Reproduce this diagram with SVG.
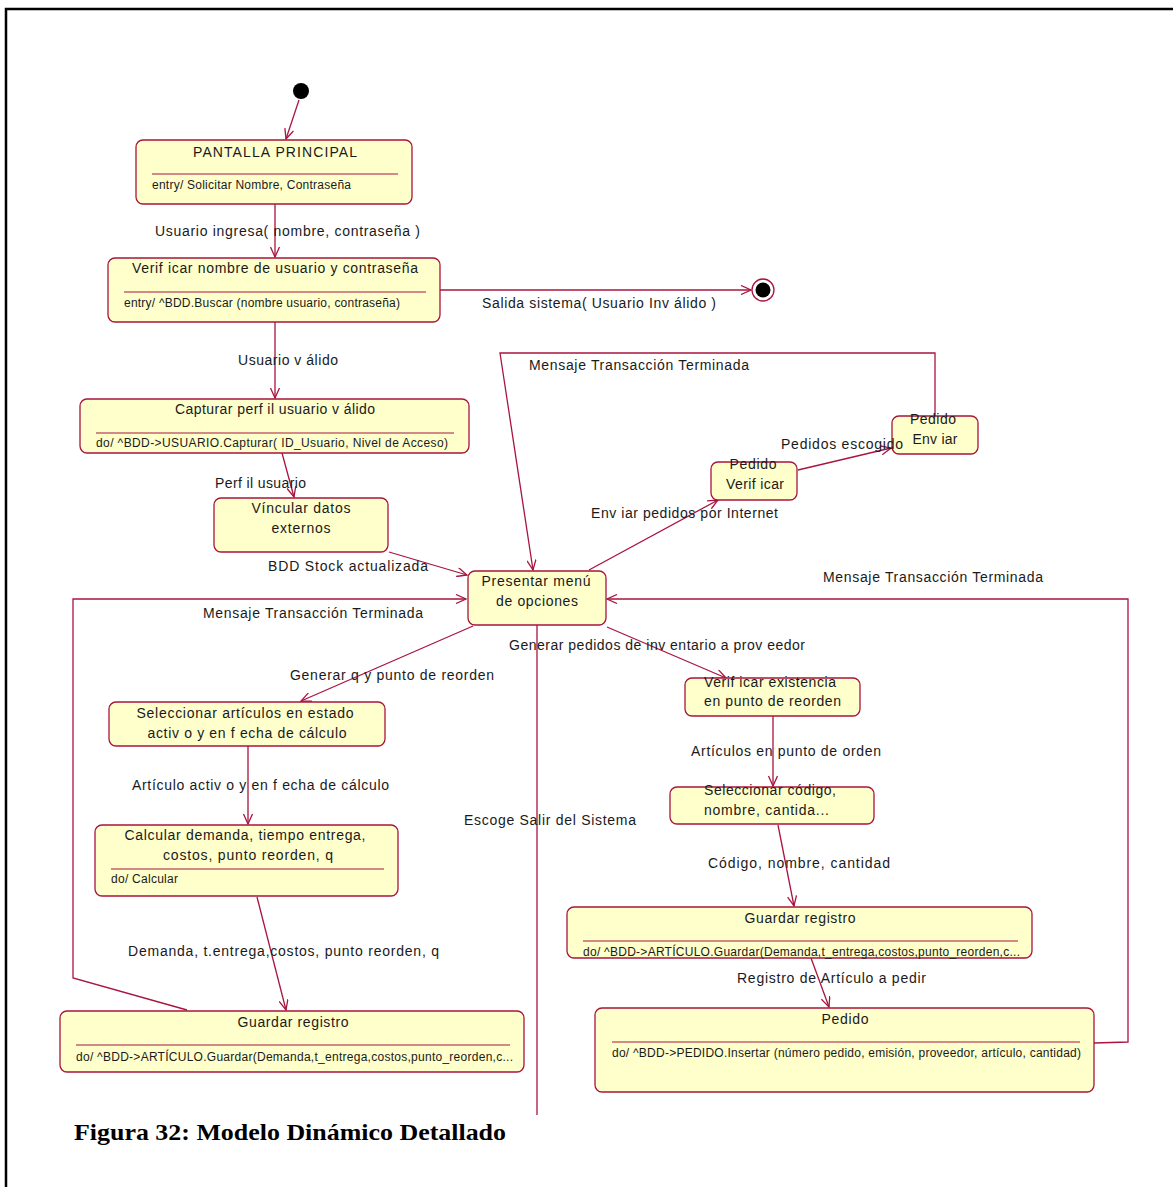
<svg xmlns="http://www.w3.org/2000/svg" width="1173" height="1187" viewBox="0 0 1173 1187">
<style>
.box{fill:#ffffcc;stroke:#a8153f;stroke-width:1.3}
.div{stroke:#a8153f;stroke-width:1.2}
.t{font-family:"Liberation Sans",Arial,sans-serif;font-size:14px;fill:#1a1a1a}
.c{text-anchor:middle}
.s{font-family:"Liberation Sans",Arial,sans-serif;font-size:12px;fill:#1a1a1a}
.e{fill:none;stroke:#a8153f;stroke-width:1.3}
.cap{font-family:"Liberation Serif","Times New Roman",serif;font-size:24px;font-weight:bold;fill:#000}
</style>
<defs>
<marker id="arr" viewBox="0 0 12 10" refX="11" refY="5" markerWidth="12" markerHeight="10" markerUnits="userSpaceOnUse" orient="auto">
<path d="M1,0.5 L11,5 L1,9.5" fill="none" stroke="#a8153f" stroke-width="1.3"/>
</marker>
</defs>
<rect width="1173" height="1187" fill="#fff"/>
<path d="M6,1187 L6,9 L1173,9" fill="none" stroke="#000" stroke-width="2.5"/>

<g id="connectors">
<line class="e" x1="299" y1="100" x2="286" y2="139" marker-end="url(#arr)"/>
<line class="e" x1="275" y1="204" x2="275" y2="257" marker-end="url(#arr)"/>
<line class="e" x1="440" y1="290" x2="751" y2="290" marker-end="url(#arr)"/>
<line class="e" x1="275" y1="322" x2="275" y2="398" marker-end="url(#arr)"/>
<line class="e" x1="282" y1="453" x2="294" y2="497" marker-end="url(#arr)"/>
<line class="e" x1="389" y1="552" x2="467" y2="575" marker-end="url(#arr)"/>
<line class="e" x1="589" y1="570" x2="718" y2="500" marker-end="url(#arr)"/>
<line class="e" x1="798" y1="470" x2="891" y2="448" marker-end="url(#arr)"/>
<polyline class="e" points="935,416 935,353 500,353 533,570" marker-end="url(#arr)"/>
<polyline class="e" points="187,1010 73,978 73,599 466,599" marker-end="url(#arr)"/>
<polyline class="e" points="1094,1043 1128,1042 1128,599 607,599" marker-end="url(#arr)"/>
<line class="e" x1="473" y1="626" x2="301" y2="701" marker-end="url(#arr)"/>
<line class="e" x1="607" y1="627" x2="726" y2="678" marker-end="url(#arr)"/>
<line class="e" x1="537" y1="625" x2="537" y2="1115"/>
<line class="e" x1="248" y1="746" x2="248" y2="824" marker-end="url(#arr)"/>
<line class="e" x1="257" y1="897" x2="286" y2="1010" marker-end="url(#arr)"/>
<line class="e" x1="773" y1="716" x2="773" y2="786" marker-end="url(#arr)"/>
<line class="e" x1="778" y1="825" x2="794" y2="906" marker-end="url(#arr)"/>
<line class="e" x1="811" y1="958" x2="829" y2="1007" marker-end="url(#arr)"/>
</g>

<g id="initial"><circle cx="301" cy="91" r="8" fill="#000"/></g>
<g id="final"><circle cx="763" cy="290" r="11" fill="#fff" stroke="#a8153f" stroke-width="1.3"/><circle cx="763" cy="290" r="7.5" fill="#000"/></g>

<g id="pantalla">
<rect class="box" x="136" y="140" width="276" height="64" rx="7"/>
<text class="t c" x="275" y="157" textLength="164">PANTALLA PRINCIPAL</text>
<line class="div" x1="152" y1="174" x2="398" y2="174"/>
<text class="s" x="152" y="189" textLength="199">entry/ Solicitar Nombre, Contraseña</text>
</g>

<g id="verificar">
<rect class="box" x="108" y="258" width="332" height="64" rx="7"/>
<text class="t c" x="275" y="273" textLength="286">Verif icar nombre de usuario y  contraseña</text>
<line class="div" x1="124" y1="292" x2="426" y2="292"/>
<text class="s" x="124" y="307" textLength="276">entry/ ^BDD.Buscar (nombre usuario, contraseña)</text>
</g>

<g id="capturar">
<rect class="box" x="80" y="399" width="389" height="54" rx="7"/>
<text class="t c" x="275" y="414" textLength="200">Capturar perf il usuario v álido</text>
<line class="div" x1="96" y1="433" x2="454" y2="433"/>
<text class="s" x="96" y="447" textLength="352">do/ ^BDD-&gt;USUARIO.Capturar( ID_Usuario, Nivel de Acceso)</text>
</g>

<g id="vincular">
<rect class="box" x="214" y="498" width="174" height="54" rx="7"/>
<text class="t c" x="301" y="513" textLength="99">Víncular datos</text>
<text class="t c" x="301" y="533" textLength="59">externos</text>
</g>

<g id="presentar">
<rect class="box" x="468" y="571" width="138" height="54" rx="7"/>
<text class="t c" x="536" y="586" textLength="109">Presentar menú</text>
<text class="t c" x="537" y="606" textLength="82">de opciones</text>
</g>

<g id="pedidoVerificar">
<rect class="box" x="711" y="462" width="86" height="38" rx="7"/>
<text class="t c" x="753" y="469" textLength="47">Pedido</text>
<text class="t c" x="755" y="489" textLength="58">Verif icar</text>
</g>

<g id="pedidoEnviar">
<rect class="box" x="892" y="416" width="86" height="38" rx="7"/>
<text class="t c" x="933" y="424" textLength="46">Pedido</text>
<text class="t c" x="935" y="444" textLength="45">Env iar</text>
</g>

<g id="seleccionarArticulos">
<rect class="box" x="109" y="702" width="276" height="44" rx="7"/>
<text class="t c" x="245" y="718" textLength="217">Seleccionar artículos en estado</text>
<text class="t c" x="247" y="738" textLength="199">activ o y  en f echa de cálculo</text>
</g>

<g id="calcular">
<rect class="box" x="95" y="825" width="303" height="71" rx="7"/>
<text class="t c" x="245" y="840" textLength="241">Calcular demanda, tiempo entrega,</text>
<text class="t c" x="248" y="860" textLength="170">costos, punto reorden, q</text>
<line class="div" x1="111" y1="869" x2="384" y2="869"/>
<text class="s" x="111" y="883" textLength="67">do/ Calcular</text>
</g>

<g id="guardarIzq">
<rect class="box" x="60" y="1011" width="464" height="61" rx="7"/>
<text class="t c" x="293" y="1027" textLength="111">Guardar registro</text>
<line class="div" x1="76" y1="1045" x2="510" y2="1045"/>
<text class="s" x="76" y="1061" textLength="437">do/ ^BDD-&gt;ARTÍCULO.Guardar(Demanda,t_entrega,costos,punto_reorden,c...</text>
</g>

<g id="verificarExistencia">
<rect class="box" x="685" y="678" width="175" height="38" rx="7"/>
<text class="t" x="704" y="687" textLength="132">Verif icar existencia</text>
<text class="t" x="704" y="706" textLength="137">en punto de reorden</text>
</g>

<g id="seleccionarCodigo">
<rect class="box" x="670" y="787" width="204" height="37" rx="7"/>
<text class="t" x="704" y="795" textLength="132">Seleccionar código,</text>
<text class="t" x="704" y="815" textLength="125">nombre, cantida...</text>
</g>

<g id="guardarDer">
<rect class="box" x="567" y="907" width="465" height="51" rx="7"/>
<text class="t c" x="800" y="923" textLength="111">Guardar registro</text>
<line class="div" x1="583" y1="941" x2="1018" y2="941"/>
<text class="s" x="583" y="956" textLength="437">do/ ^BDD-&gt;ARTÍCULO.Guardar(Demanda,t_entrega,costos,punto_reorden,c...</text>
</g>

<g id="pedido">
<rect class="box" x="595" y="1008" width="499" height="84" rx="7"/>
<text class="t c" x="845" y="1024" textLength="47">Pedido</text>
<line class="div" x1="612" y1="1042" x2="1080" y2="1042"/>
<text class="s" x="612" y="1057" textLength="469">do/ ^BDD-&gt;PEDIDO.Insertar (número pedido, emisión, proveedor, artículo, cantidad)</text>
</g>

<g id="connector-labels">
<text class="t" x="155" y="236" textLength="265">Usuario ingresa( nombre, contraseña )</text>
<text class="t" x="482" y="308" textLength="234">Salida sistema( Usuario Inv álido )</text>
<text class="t" x="238" y="365" textLength="100">Usuario v álido</text>
<text class="t" x="215" y="488" textLength="91">Perf il usuario</text>
<text class="t" x="268" y="571" textLength="160">BDD Stock actualizada</text>
<text class="t" x="591" y="518" textLength="187">Env iar pedidos por Internet</text>
<text class="t" x="781" y="449" textLength="122">Pedidos escogido</text>
<text class="t" x="529" y="370" textLength="220">Mensaje Transacción Terminada</text>
<text class="t" x="203" y="618" textLength="220">Mensaje Transacción Terminada</text>
<text class="t" x="823" y="582" textLength="220">Mensaje Transacción Terminada</text>
<text class="t" x="290" y="680" textLength="204">Generar q y  punto de reorden</text>
<text class="t" x="509" y="650" textLength="296">Generar pedidos de inv entario a prov eedor</text>
<text class="t" x="464" y="825" textLength="172">Escoge Salir del Sistema</text>
<text class="t" x="132" y="790" textLength="257">Artículo activ o y  en f echa de cálculo</text>
<text class="t" x="128" y="956" textLength="311">Demanda, t.entrega,costos, punto reorden, q</text>
<text class="t" x="691" y="756" textLength="190">Artículos en punto de orden</text>
<text class="t" x="708" y="868" textLength="182">Código, nombre,  cantidad</text>
<text class="t" x="737" y="983" textLength="189">Registro de Artículo a pedir</text>
</g>

<text class="cap" x="74" y="1140" textLength="432" lengthAdjust="spacingAndGlyphs">Figura 32: Modelo Dinámico Detallado</text>
</svg>
